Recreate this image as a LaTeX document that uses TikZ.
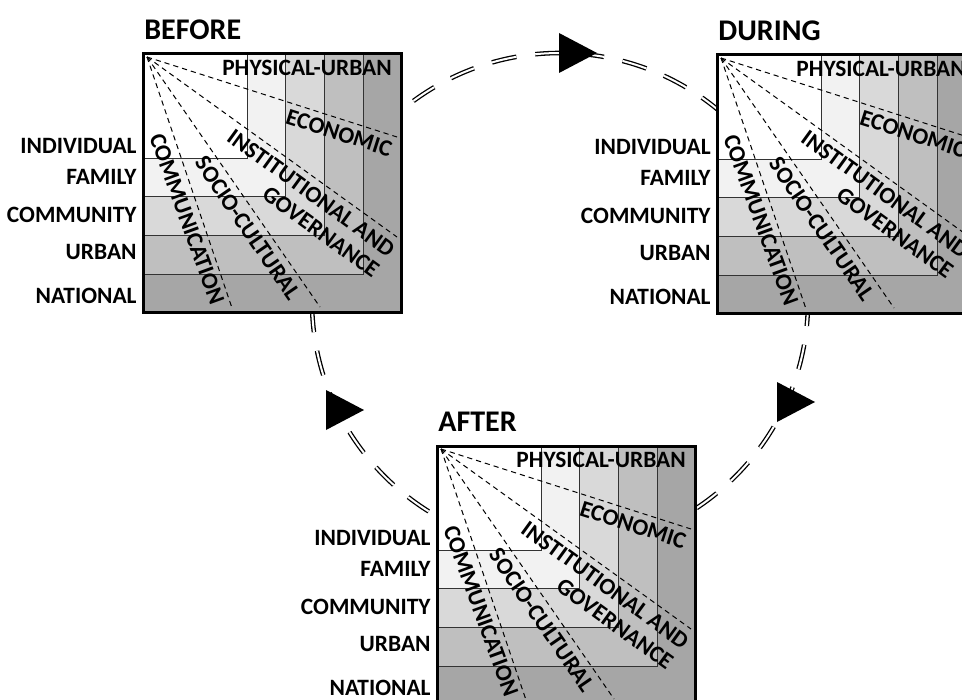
\documentclass[tikz,border=0pt]{standalone}
\usepackage{fontspec}
\setmainfont{Carlito}

\begin{document}
\begin{tikzpicture}[x=0.5pt, y=-0.5pt,
    scalelab/.style={anchor=east, inner sep=0pt, font=\fontsize{11.7}{11.7}\selectfont\bfseries},
    dimlab/.style={inner sep=0pt, font=\fontsize{11.7}{11.7}\selectfont\bfseries},
    phasetitle/.style={anchor=west, inner sep=0pt, font=\fontsize{15}{15}\selectfont\bfseries},
    raydash/.style={line width=0.5pt, dash pattern=on 2.6pt off 2pt},
    bandsq/.style={draw=black!80, line width=0.4pt},
    loopline/.style={double, double distance=1pt, line width=0.65pt, dash pattern=on 12.5pt off 9.5pt}]

    \useasboundingbox (0,0) rectangle (962,700);
    \clip (0,0) rectangle (962,700);

    % Cycle (behind the panels)
    \coordinate (hub) at (560,301);
    \draw[loopline] (hub) circle [radius=248];

    % Arrow heads
    \foreach \ax/\ay/\nm in {559/53/toDuring, 777/402/toAfter, 326/410/toBefore} {
        \coordinate (\nm) at (\ax,\ay);
        \fill[shift={(\nm)}] (0,-20) -- (38,0) -- (0,20) -- cycle;
    }

    % Panels
    \foreach \px/\py/\ttl/\id in {143/54/BEFORE/bef, 717/55/DURING/dur, 437/446/AFTER/aft} {
    \begin{scope}[shift={(\px,\py)}]
        % Scales (nested squares)
        \foreach \s/\c in {258/black!35, 220/black!25, 181/black!15, 142/black!5, 104/white}
            \filldraw[bandsq, fill=\c] (0,0) rectangle (\s,\s);

        % Dimensions (rays)
        \coordinate (o-\id) at (4,3);
        \foreach \ex/\ey/\nm in {254/83/econ, 254/183/inst, 177/253/soc, 89/254/comm} {
            \coordinate (\nm-end-\id) at (\ex,\ey);
            \draw[raydash] (o-\id) -- (\nm-end-\id);
        }

        % Frame
        \draw[line width=1.5pt] (0,0) rectangle (258,258);
        \node[phasetitle] (title-\id) at (1,-24) {\ttl};

        % Scale labels
        \foreach \lab/\ly/\nm in {INDIVIDUAL/92/ind, FAMILY/123/fam, COMMUNITY/161/com, URBAN/198/urb, NATIONAL/242/nat}
            \node[scalelab] (\nm-\id) at (-6,\ly) {\lab};

        % Dimension labels
        \node[dimlab] (phys-\id) at (164,14) {PHYSICAL-URBAN};
        \node[dimlab, rotate=-17.7] (econ-\id) at (196,79) {ECONOMIC};
        \node[dimlab, rotate=-36] (inst-\id) at (168,139) {INSTITUTIONAL AND};
        \node[dimlab, rotate=-36] (gov-\id) at (178,178) {GOVERNANCE};
        \node[dimlab, rotate=-55.5] (soc-\id) at (105,174) {SOCIO-CULTURAL};
        \node[dimlab, rotate=-70] (comm-\id) at (44,165) {COMMUNICATION};
    \end{scope}
    }

\end{tikzpicture}
\end{document}
